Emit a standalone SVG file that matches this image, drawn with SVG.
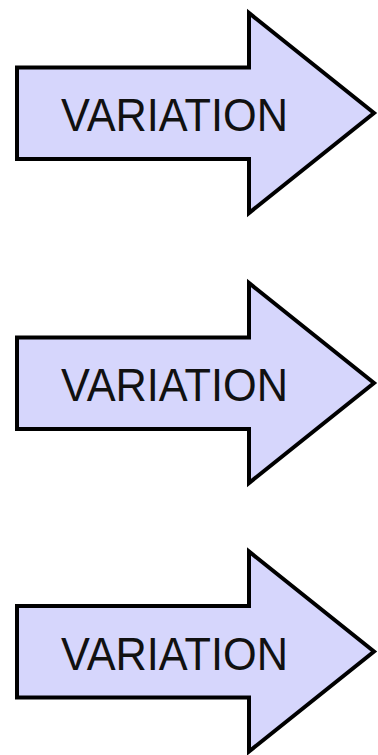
<svg xmlns="http://www.w3.org/2000/svg" width="378" height="755" viewBox="0 0 378 755">
<defs>
<style>
.arrow{fill:#d6d6fc;stroke:#000;stroke-width:4;stroke-linejoin:miter;stroke-miterlimit:10}
.lbl{font-family:"Liberation Sans",Arial,Helvetica,sans-serif;font-size:46px;fill:#111}
</style>
<path id="shape" d="M17,67.5 H249 V13 L374,113 L249,213 V159 H17 Z"/>
</defs>
<rect width="378" height="755" fill="#fff"/>
<g id="arrow1">
<use href="#shape" class="arrow"/>
<text class="lbl" x="61" y="131" textLength="227" lengthAdjust="spacingAndGlyphs">VARIATION</text>
</g>
<g id="arrow2" transform="translate(0,270)">
<use href="#shape" class="arrow"/>
<text class="lbl" x="61" y="131" textLength="227" lengthAdjust="spacingAndGlyphs">VARIATION</text>
</g>
<g id="arrow3" transform="translate(0,538.5)">
<use href="#shape" class="arrow"/>
<text class="lbl" x="61" y="131" textLength="227" lengthAdjust="spacingAndGlyphs">VARIATION</text>
</g>
<g id="connectors"/>
</svg>
